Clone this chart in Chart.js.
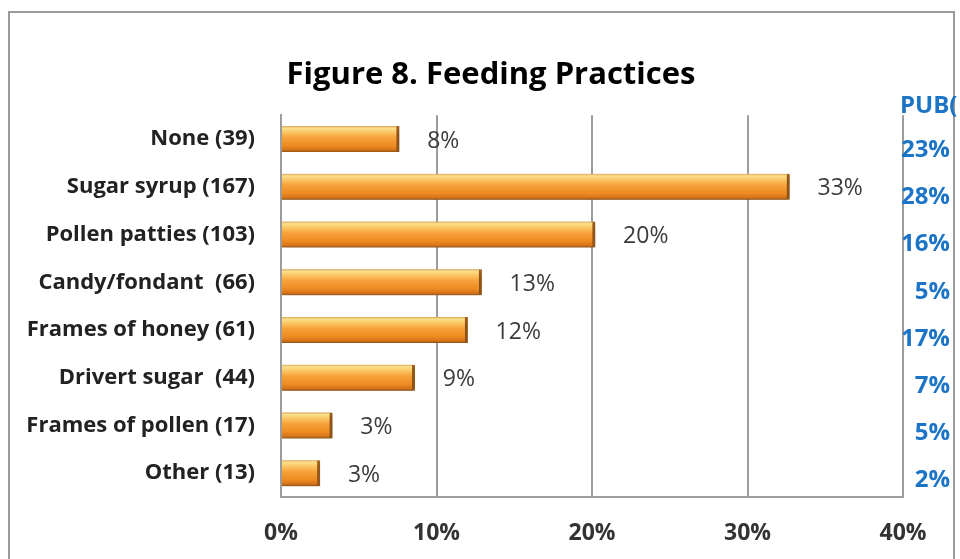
<!DOCTYPE html>
<html>
<head>
<meta charset="utf-8">
<script src="https://cdn.jsdelivr.net/npm/chart.js@4.4.1/dist/chart.umd.min.js"></script>
<style>
  html, body { margin: 0; padding: 0; background: #fff; overflow: hidden; }
  #wrap { position: relative; width: 960px; height: 559px; overflow: hidden; }
  #frame { position: absolute; left: 8px; top: 11px; width: 947px; height: 600px;
           border: 2px solid #9a9a9a; box-sizing: border-box; }
  #c { position: absolute; left: 0; top: 0; }
  .pub { position: absolute; font-family: "Open Sans", Lato, sans-serif; font-weight: 700;
         font-size: 24px; color: #1c74c6; line-height: 1; white-space: nowrap; }
</style>
</head>
<body>
<div id="wrap">
  <div id="frame"></div>
  <canvas id="c" width="960" height="559"></canvas>
</div>
<script>
// Feeding practices reported by respondents (share of 510 answers, percent)
const categories = [
  'None (39)', 'Sugar syrup (167)', 'Pollen patties (103)', 'Candy/fondant  (66)',
  'Frames of honey (61)', 'Drivert sugar  (44)', 'Frames of pollen (17)', 'Other (13)'
];
const percentValues = [7.6, 32.7, 20.2, 12.9, 12.0, 8.6, 3.3, 2.5];
const tickValues = [0, 10, 20, 30, 40];

// Column of the neighbouring table
const pubHeader = 'PUB(';
const pubValues = ['23%', '28%', '16%', '5%', '17%', '7%', '5%', '2%'];

const FONT = '"Open Sans", Lato, sans-serif';
const BAR_H = 26;

// neighbouring column text
(function () {
  const wrap = document.getElementById('wrap');
  const h = document.createElement('div');
  h.className = 'pub';
  h.textContent = pubHeader;
  h.style.left = '900px';
  h.style.top = '92px';
  wrap.appendChild(h);
  pubValues.forEach((t, i) => {
    const d = document.createElement('div');
    d.className = 'pub';
    d.textContent = t;
    d.style.right = (960 - 950) + 'px';
    d.style.top = (136 + i * 47.2) + 'px';
    wrap.appendChild(d);
  });
})();

function barFill(ctx) {
  const chart = ctx.chart;
  const y = chart.scales && chart.scales.y;
  if (!y || ctx.dataIndex == null) return '#f0921f';
  const cy = y.getPixelForValue(ctx.dataIndex);
  if (!isFinite(cy)) return '#f0921f';
  const g = chart.ctx.createLinearGradient(0, cy - BAR_H / 2, 0, cy + BAR_H / 2);
  g.addColorStop(0.00, '#d9a450');
  g.addColorStop(0.08, '#fbe08e');
  g.addColorStop(0.22, '#fbc866');
  g.addColorStop(0.45, '#f6a13a');
  g.addColorStop(0.75, '#ee8b22');
  g.addColorStop(0.92, '#d4721a');
  g.addColorStop(1.00, '#8e5314');
  return g;
}

// let the long category names run past the left edge of the axis box
const wideLabels = {
  id: 'wideLabels',
  afterLayout(chart) { chart.scales.y.left = 0; }
};

const shadowPlugin = {
  id: 'barShadow',
  beforeDatasetsDraw(chart) {
    const c = chart.ctx;
    c.save();
    c.shadowColor = 'rgba(0,0,0,0.28)';
    c.shadowBlur = 5;
    c.shadowOffsetX = 2;
    c.shadowOffsetY = 3;
  },
  afterDatasetsDraw(chart) {
    chart.ctx.restore();
  }
};

const valueLabels = {
  id: 'valueLabels',
  afterDatasetsDraw(chart) {
    const c = chart.ctx;
    const meta = chart.getDatasetMeta(0);
    const data = chart.data.datasets[0].data;
    c.save();
    c.font = '400 23px ' + FONT;
    c.fillStyle = '#3b3b3b';
    c.textAlign = 'left';
    c.textBaseline = 'middle';
    meta.data.forEach((el, i) => {
      c.fillText(Math.round(data[i]) + '%', el.x + 28, el.y + 2);
    });
    c.restore();
  }
};

new Chart(document.getElementById('c'), {
  type: 'bar',
  data: {
    labels: categories,
    datasets: [{
      data: percentValues,
      backgroundColor: barFill,
      borderColor: '#a8621a',
      borderWidth: { top: 0, right: 3, bottom: 0, left: 0 },
      borderSkipped: false,
      barThickness: BAR_H
    }]
  },
  options: {
    indexAxis: 'y',
    responsive: false,
    animation: false,
    layout: { padding: { left: 79, right: 57, top: 0, bottom: 0 } },
    plugins: {
      legend: { display: false },
      tooltip: { enabled: false },
      title: {
        display: true,
        text: 'Figure 8. Feeding Practices',
        color: '#000',
        font: { family: FONT, size: 31, weight: '700', lineHeight: 1.2 },
        padding: { top: 57, bottom: 21 }
      }
    },
    scales: {
      x: {
        min: 0, max: 40,
        afterBuildTicks(scale) { scale.ticks = tickValues.map(v => ({ value: v })); },
        afterFit(scale) { scale.height = 62; },
        grid: { color: '#9c9c9c', lineWidth: 2, drawTicks: false },
        border: { display: true, color: '#9c9c9c', width: 2 },
        ticks: {
          padding: 23,
          color: '#333',
          font: { family: FONT, size: 23, weight: '700' },
          callback: v => v + '%'
        }
      },
      y: {
        afterFit(scale) { scale.width = 202; },
        grid: { display: false, drawTicks: false },
        border: { display: true, color: '#9c9c9c', width: 2 },
        ticks: {
          padding: 26,
          color: '#222',
          font: { family: FONT, size: 22, weight: '700' }
        }
      }
    }
  },
  plugins: [wideLabels, shadowPlugin, valueLabels]
});
</script>
</body>
</html>
